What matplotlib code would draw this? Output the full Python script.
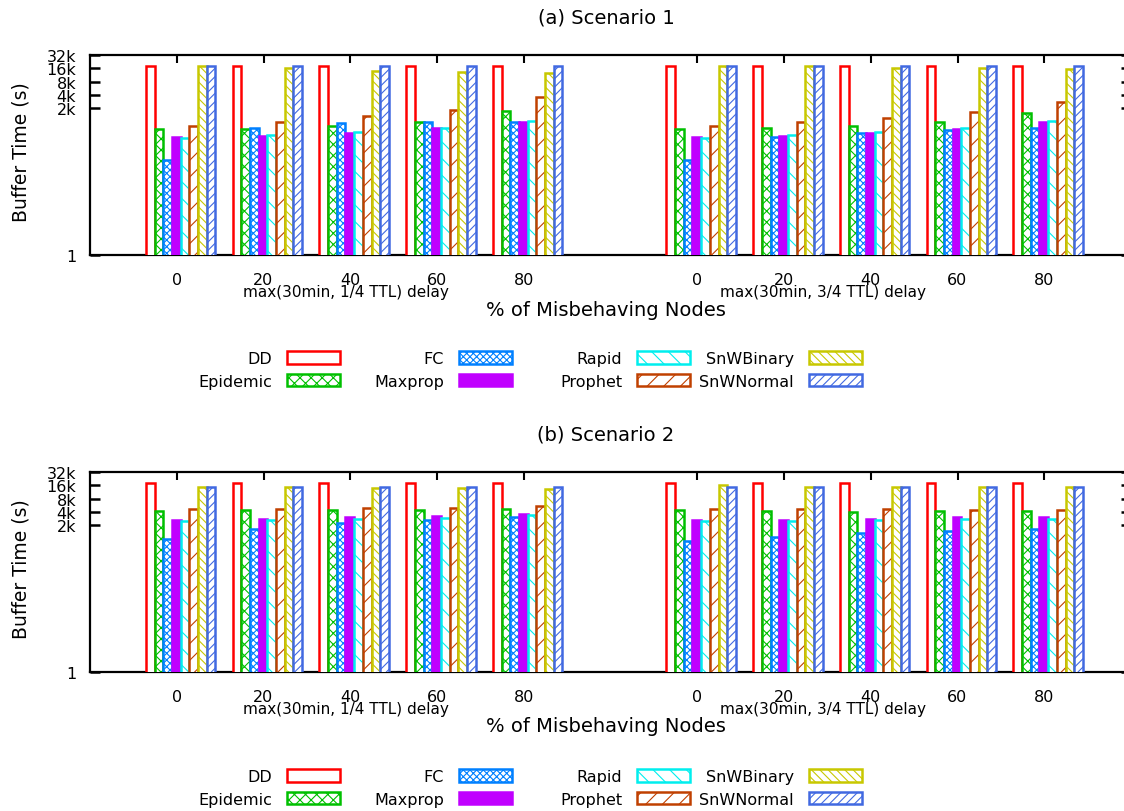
import matplotlib
matplotlib.use('Agg')
import matplotlib.pyplot as plt
import numpy as np
from matplotlib.ticker import NullLocator

plt.rcParams['font.family'] = 'DejaVu Sans'
plt.rcParams['hatch.linewidth'] = 0.8

# data (buffer time in seconds, log2 axis)
groups = ["0", "20", "40", "60", "80"]
blocks = ["max(30min, 1/4 TTL) delay", "max(30min, 3/4 TTL) delay"]
series = ["DD", "Epidemic", "FC", "Maxprop", "Rapid", "Prophet", "SnWBinary", "SnWNormal"]
ytick_vals = [1, 2048, 4096, 8192, 16384, 32768]
ytick_labels = ["1", "2k", "4k", "8k", "16k", "32k"]

# scenario 1: first five values = 1/4 TTL block, last five = 3/4 TTL block
s1_dd = [18200, 18200, 18200, 18200, 18200, 18200, 18200, 18200, 18200, 18200]
s1_epidemic = [700, 700, 800, 1020, 1810, 700, 745, 800, 1020, 1580]
s1_fc = [141, 745, 940, 1020, 1020, 141, 452, 565, 662, 745]
s1_maxprop = [452, 491, 565, 722, 1020, 459, 491, 565, 697, 1020]
s1_rapid = [443, 518, 605, 745, 1070, 443, 518, 605, 745, 1070]
s1_prophet = [800, 1020, 1350, 1900, 3740, 800, 1020, 1235, 1710, 2800]
s1_snwbinary = [18200, 16700, 14500, 13800, 12700, 18200, 18200, 16700, 16700, 15800]
s1_snwnormal = [18200, 18200, 18200, 18200, 18200, 18200, 18200, 18200, 18200, 18200]

# scenario 2
s2_dd = [18800, 18800, 18800, 18800, 18800, 18800, 18800, 18800, 18800, 18800]
s2_epidemic = [4230, 4460, 4460, 4460, 4870, 4460, 4230, 4170, 4230, 4230]
s2_fc = [1024, 1725, 2320, 2650, 3100, 910, 1135, 1400, 1500, 1725]
s2_maxprop = [2710, 2900, 3170, 3330, 3620, 2710, 2710, 2900, 3170, 3170]
s2_rapid = [2520, 2710, 2900, 3050, 3570, 2520, 2520, 2710, 2900, 2900]
s2_prophet = [4870, 4870, 5140, 5140, 5490, 4870, 4870, 4870, 4460, 4460]
s2_snwbinary = [15300, 15300, 14300, 14300, 13300, 16400, 15300, 15300, 15300, 15300]
s2_snwnormal = [15300, 15300, 15300, 15300, 15300, 15300, 15000, 15300, 15300, 15300]

scenario1 = [s1_dd, s1_epidemic, s1_fc, s1_maxprop, s1_rapid, s1_prophet, s1_snwbinary, s1_snwnormal]
scenario2 = [s2_dd, s2_epidemic, s2_fc, s2_maxprop, s2_rapid, s2_prophet, s2_snwbinary, s2_snwnormal]

# gnuplot-like default colours and fill styles
colors = ['#ff0000', '#00c000', '#0080ff', '#c000ff', '#00eeee', '#c04000', '#c8c800', '#4169e1']
fills = ['white', 'white', 'white', '#c000ff', 'white', 'white', 'white', 'white']
hatches = ['', 'xxx', 'xxxxx', '', '\\\\', '//', '\\\\\\\\', '////']

W, H = 1124, 812
fig = plt.figure(figsize=(W / 100, H / 100), dpi=100)


def px_rect(x0, y_top, x1, y_bot):
    return [x0 / W, 1 - y_bot / H, (x1 - x0) / W, (y_bot - y_top) / H]


def draw_panel(title, values, y_top, y_bot, title_y, legend_top):
    ax = fig.add_axes(px_rect(90, y_top, 1131, y_bot))
    ax.set_yscale('log', base=2)
    group_x = np.array([b * 6 + g for b in range(len(blocks)) for g in range(len(groups))])
    bw = 0.1
    handles = []
    for i, name in enumerate(series):
        bars = ax.bar(group_x + (i - 3.5) * bw + 0.045, values[i], width=bw,
                      color=fills[i], edgecolor=colors[i], hatch=hatches[i],
                      linewidth=1.8, label=name, zorder=3)
        handles.append(bars)

    ax.set_xlim(-1, 11)
    ax.set_ylim(1, 32768)
    ax.set_yticks(ytick_vals, labels=ytick_labels)
    ax.yaxis.set_minor_locator(NullLocator())
    ax.set_xticks(group_x, labels=groups * len(blocks))
    ax.tick_params(axis='y', direction='in', left=True, right=True, length=7,
                   width=1.8, labelsize=11.5, pad=10)
    ax.tick_params(axis='x', direction='in', top=True, bottom=False, length=6,
                   width=1.5, labelsize=11.5, pad=12)
    for sp in ax.spines.values():
        sp.set_linewidth(1.6)

    # block labels under the tick labels
    for bx, lab in zip([1.95, 7.45], blocks):
        ax.annotate(lab, xy=(bx, 0), xycoords=('data', 'axes fraction'),
                    xytext=(0, -37 * 0.72), textcoords='offset points',
                    ha='center', va='center', fontsize=11)
    ax.annotate('% of Misbehaving Nodes', xy=(0.5, 0), xycoords='axes fraction',
                xytext=(-3, -54 * 0.72), textcoords='offset points',
                ha='center', va='center', fontsize=14)
    ax.text(-0.0663, 0.52, 'Buffer Time (s)', transform=ax.transAxes, rotation=90,
            ha='center', va='center', fontsize=13.5)
    fig.text(606 / W, 1 - title_y / H, title, ha='center', va='center', fontsize=14)

    # legend: four columns, label then sample box
    col_right = [340, 512, 690, 862]
    for j in range(4):
        fig.legend(handles[2 * j:2 * j + 2], series[2 * j:2 * j + 2], loc='upper right',
                   bbox_to_anchor=(col_right[j] / W, 1 - legend_top / H),
                   markerfirst=False, frameon=False, borderpad=0, borderaxespad=0,
                   handlelength=3.3, handleheight=0.8, handletextpad=0.95,
                   labelspacing=0.48, fontsize=11.5)


draw_panel('(a) Scenario 1', scenario1, 56, 256, 18, 352)
draw_panel('(b) Scenario 2', scenario2, 473, 673, 435, 770)

fig.savefig('out.png', dpi=100)
